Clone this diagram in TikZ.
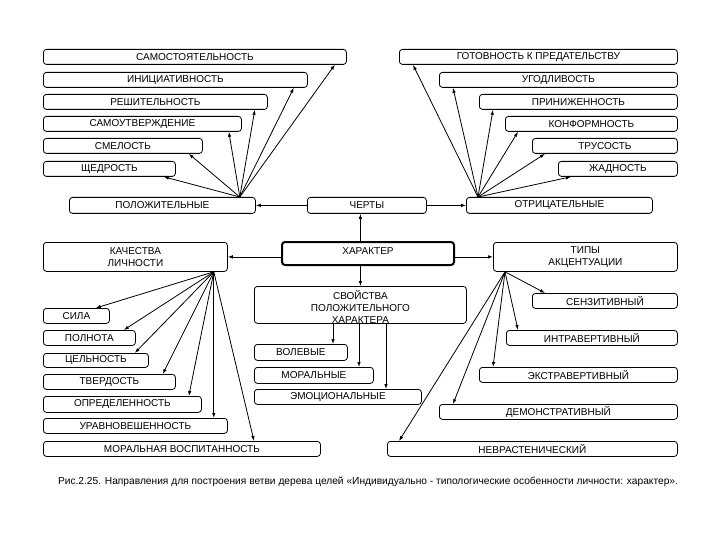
\documentclass[tikz,border=0pt]{standalone}
\usepackage{fontspec}
\setmainfont{Liberation Sans}
\usetikzlibrary{arrows.meta,calc}
\begin{document}
\begin{tikzpicture}[x=1pt,y=-1pt,
  bx/.style={draw, rounded corners=3pt, line width=0.8pt, inner sep=0pt, anchor=north west,
    font=\fontsize{10}{12.5}\selectfont, align=center},
  arr/.style={-{Latex[length=5pt,width=3.5pt]}, line width=0.8pt},
  lbl/.style={font=\fontsize{10}{12}\selectfont, align=center, inner sep=0pt}]
\useasboundingbox (0,0) rectangle (720,540);
\fill[white] (0,0) rectangle (720,540);
% left top
\node[bx, minimum width=303pt, minimum height=15pt] (samo) at (43,49) {САМОСТОЯТЕЛЬНОСТЬ};
\node[bx, minimum width=264pt, minimum height=15pt] (init) at (43,72) {ИНИЦИАТИВНОСТЬ};
\node[bx, minimum width=224pt, minimum height=15pt] (resh) at (43,94) {РЕШИТЕЛЬНОСТЬ};
\node[bx, minimum width=198pt, minimum height=15pt] (samout) at (43,116) {САМОУТВЕРЖДЕНИЕ};
\node[bx, minimum width=159pt, minimum height=15pt] (smel) at (43,138) {СМЕЛОСТЬ};
\node[bx, minimum width=132pt, minimum height=15pt] (shched) at (43,161) {ЩЕДРОСТЬ};
% right top
\node[bx, minimum width=278pt, minimum height=15pt] (gotov) at (399,49) {ГОТОВНОСТЬ К ПРЕДАТЕЛЬСТВУ};
\node[bx, minimum width=238pt, minimum height=15pt] (ugod) at (439,72) {УГОДЛИВОСТЬ};
\node[bx, minimum width=198pt, minimum height=15pt] (prin) at (479,94) {ПРИНИЖЕННОСТЬ};
\node[bx, minimum width=172pt, minimum height=15pt] (konf) at (505,116) {КОНФОРМНОСТЬ};
\node[bx, minimum width=145pt, minimum height=15pt] (trus) at (532,138) {ТРУСОСТЬ};
\node[bx, minimum width=119pt, minimum height=15pt] (zhad) at (558,161) {ЖАДНОСТЬ};
% middle row
\node[bx, minimum width=186pt, minimum height=16pt] (pol) at (69,197) {ПОЛОЖИТЕЛЬНЫЕ};
\node[bx, minimum width=119pt, minimum height=16pt] (chert) at (307,197) {ЧЕРТЫ};
\node[bx, minimum width=186pt, minimum height=16pt] (otr) at (466,197) {ОТРИЦАТЕЛЬНЫЕ};
% center
\node[bx, line width=2pt, minimum width=172pt, minimum height=23pt] (xar) at (281,241) {};
\node[lbl] (xartxt) at ($(xar.center)+(0,-2)$) {ХАРАКТЕР};
\node[bx, minimum width=184pt, minimum height=29pt] (kach) at (43,242) {КАЧЕСТВА\\ЛИЧНОСТИ};
\node[bx, minimum width=184pt, minimum height=29pt] (tipy) at (493,242) {ТИПЫ\\АКЦЕНТУАЦИИ};
\node[bx, minimum width=212pt, minimum height=37pt] (svo) at (254,286) {};
\node[lbl] (svotxt) at ($(svo.center)+(0,2)$) {СВОЙСТВА\\ПОЛОЖИТЕЛЬНОГО\\ХАРАКТЕРА};
\node[bx, minimum width=93pt, minimum height=16pt] (vol) at (254,344) {ВОЛЕВЫЕ};
\node[bx, minimum width=119pt, minimum height=16pt] (mor) at (254,367) {МОРАЛЬНЫЕ};
\node[bx, minimum width=167pt, minimum height=15pt] (emo) at (254,389) {ЭМОЦИОНАЛЬНЫЕ};
% left bottom
\node[bx, minimum width=66pt, minimum height=15pt] (sila) at (43,308) {СИЛА};
\node[bx, minimum width=92pt, minimum height=15pt] (poln) at (43,330) {ПОЛНОТА};
\node[bx, minimum width=105pt, minimum height=14pt] (tsel) at (43,353) {ЦЕЛЬНОСТЬ};
\node[bx, minimum width=132pt, minimum height=15pt] (tverd) at (43,374) {ТВЕРДОСТЬ};
\node[bx, minimum width=158pt, minimum height=16pt] (opred) at (43,396) {ОПРЕДЕЛЕННОСТЬ};
\node[bx, minimum width=184pt, minimum height=15pt] (urav) at (43,418) {УРАВНОВЕШЕННОСТЬ};
\node[bx, minimum width=277pt, minimum height=15pt] (mv) at (43,441) {МОРАЛЬНАЯ ВОСПИТАННОСТЬ};
% right bottom
\node[bx, minimum width=145pt, minimum height=15pt] (senz) at (532,293) {СЕНЗИТИВНЫЙ};
\node[bx, minimum width=171pt, minimum height=15pt] (intr) at (506,330) {ИНТРАВЕРТИВНЫЙ};
\node[bx, minimum width=198pt, minimum height=15pt] (ekstr) at (479,367) {ЭКСТРАВЕРТИВНЫЙ};
\node[bx, minimum width=238pt, minimum height=15pt] (demon) at (439,404) {ДЕМОНСТРАТИВНЫЙ};
\node[bx, minimum width=290pt, minimum height=15pt] (nevr) at (387,441) {НЕВРАСТЕНИЧЕСКИЙ};
% caption
\node[inner sep=0pt, font=\fontsize{10.2}{12}\selectfont] (cap) at (368,482) {Рис.2.25. Направления для построения ветви дерева целей «Индивидуально - типологические особенности личности: характер».};
% source points
\coordinate (ps) at ([xshift=-16pt]pol.north east);
\coordinate (os) at ([xshift=12pt]otr.north west);
\coordinate (ks) at ([xshift=-14pt]kach.south east);
\coordinate (ts) at ([xshift=12pt]tipy.south west);
% positive
\draw[arr] (ps) -- ([xshift=-12pt]samo.south east);
\draw[arr] (ps) -- ([xshift=-14pt]init.south east);
\draw[arr] (ps) -- ([xshift=-13pt]resh.south east);
\draw[arr] (ps) -- ([xshift=-13pt]samout.south east);
\draw[arr] (ps) -- ([xshift=-14pt]smel.south east);
\draw[arr] (ps) -- ([xshift=-12pt]shched.south east);
% negative
\draw[arr] (os) -- ([xshift=14pt]gotov.south west);
\draw[arr] (os) -- ([xshift=14pt]ugod.south west);
\draw[arr] (os) -- ([xshift=14pt]prin.south west);
\draw[arr] (os) -- ([xshift=13pt]konf.south west);
\draw[arr] (os) -- ([xshift=13pt]trus.south west);
\draw[arr] (os) -- ([xshift=13pt]zhad.south west);
% center links
\draw[arr] (chert.west) -- (pol.east);
\draw[arr] (chert.east) -- (otr.west);
\draw[arr] (svo.north |- xar.north) -- (svo.north |- chert.south);
\draw[arr] (svo.north |- xar.south) -- (svo.north);
\draw[arr] (xar.west |- kach.east) -- (kach.east);
\draw[arr] (xar.east |- tipy.west) -- (tipy.west);
\draw[arr] ([xshift=79pt]svo.south west) -- ([xshift=79pt]vol.north west);
\draw[arr] ([xshift=105pt]svo.south west) -- ([xshift=105pt]mor.north west);
\draw[arr] ([xshift=132pt]svo.south west) -- ([xshift=132pt]emo.north west);
% qualities
\draw[arr] (ks) -- ([xshift=-14pt]sila.north east);
\draw[arr] (ks) -- ([xshift=-12pt]poln.north east);
\draw[arr] (ks) -- ([xshift=-14pt]tsel.north east);
\draw[arr] (ks) -- ([xshift=-13pt]tverd.north east);
\draw[arr] (ks) -- ([xshift=-13pt]opred.north east);
\draw[arr] (ks) -- ([xshift=-14pt]urav.north east);
\draw[arr] (ks) -- ([xshift=211pt]mv.north west);
% types
\draw[arr] (ts) -- ([xshift=13pt]senz.north west);
\draw[arr] (ts) -- ([xshift=12pt]intr.north west);
\draw[arr] (ts) -- ([xshift=14pt]ekstr.north west);
\draw[arr] (ts) -- ([xshift=14pt]demon.north west);
\draw[arr] (ts) -- ([xshift=12pt]nevr.north west);
\end{tikzpicture}
\end{document}
